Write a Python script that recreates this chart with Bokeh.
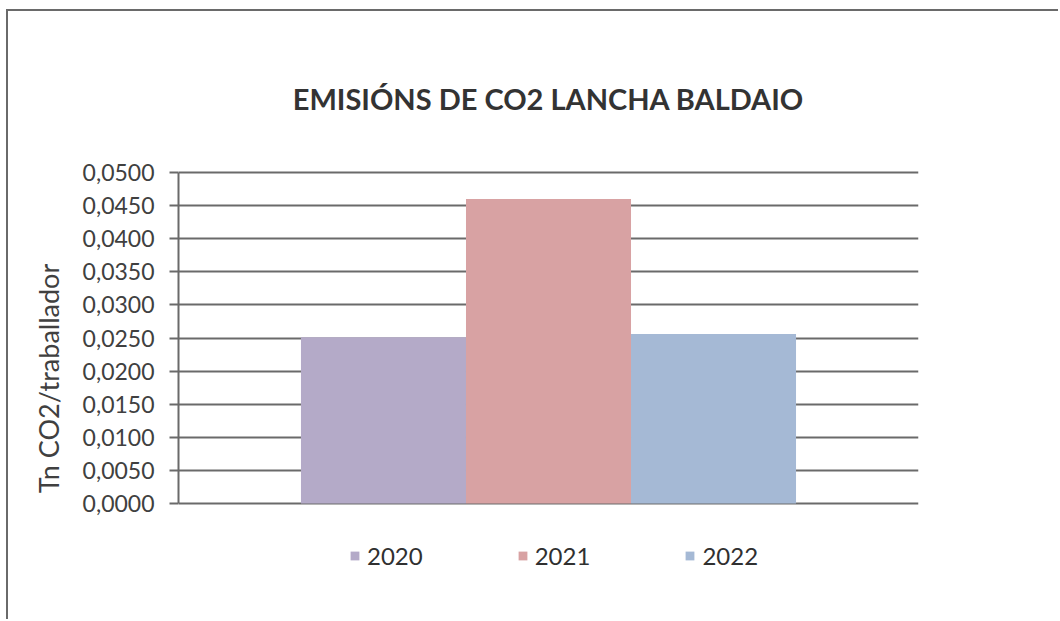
from bokeh.plotting import figure
from bokeh.models import (Range1d, FixedTicker, CustomJSTickFormatter, Title,
                          Legend, LegendItem, ColumnDataSource)
from bokeh.embed import file_html
from bokeh.resources import INLINE

# ---- data ----
years = ["2020", "2021", "2022"]
emissions = [0.0251, 0.0460, 0.0256]
colors = ["#b4aac8", "#d8a2a3", "#a5b9d5"]
y_ticks = [0.0, 0.005, 0.010, 0.015, 0.020, 0.025, 0.030, 0.035, 0.040, 0.045, 0.050]
title_text = "EMISIÓNS DE CO2 LANCHA BALDAIO"
y_label = "Tn CO2/traballador"

# ---- layout ----
W, H = 1052, 610
FONT = "Lato"
bar_w = 0.223
centers = [0.5 - bar_w, 0.5, 0.5 + bar_w]

# frame spans canvas y=159..575; value axis 0..0.05 occupies 331 px (y=161..492)
px_per_unit = 331 / 0.05
top_pad, bottom_pad = 2, 83
y_max = 0.05 + top_pad / px_per_unit
y_min = -bottom_pad / px_per_unit

p = figure(width=W, height=H, output_backend="svg", toolbar_location=None,
           x_range=Range1d(0, 1), y_range=Range1d(y_min, y_max),
           x_axis_location=None,
           min_border_left=170, min_border_right=142,
           min_border_top=159, min_border_bottom=35)
p.styles = {"border-left": "2px solid #6a6a6a", "border-top": "2px solid #6a6a6a",
            "margin-left": "6px", "margin-top": "9px"}
p.background_fill_color = "white"
p.border_fill_color = "white"
p.outline_line_color = None
p.xgrid.visible = False

p.title = Title(text=title_text, align="center", text_font=FONT,
                text_font_style="bold", text_font_size="29px",
                text_color="#333333", standoff=110)

yax = p.yaxis[0]
yax.bounds = (0, 0.05)
yax.ticker = FixedTicker(ticks=y_ticks)
yax.formatter = CustomJSTickFormatter(code="return tick.toFixed(4).replace('.', ',');")
yax.axis_line_color = "#6a6a6a"
yax.axis_line_width = 2
yax.major_tick_line_color = "#6a6a6a"
yax.major_tick_line_width = 2
yax.major_tick_out = 9
yax.major_tick_in = 0
yax.minor_tick_line_color = None
yax.major_label_standoff = 15
yax.major_label_text_font = FONT
yax.major_label_text_font_size = "23px"
yax.major_label_text_color = "#404040"
yax.axis_label = y_label
yax.axis_label_text_font = FONT
yax.axis_label_text_font_size = "27px"
yax.axis_label_text_font_style = "normal"
yax.axis_label_text_color = "#404040"
yax.axis_label_standoff = 15

p.ygrid.ticker = FixedTicker(ticks=y_ticks)
p.ygrid.grid_line_color = "#6a6a6a"
p.ygrid.grid_line_width = 2

items = []
for i, (yr, v, c) in enumerate(zip(years, emissions, colors)):
    src = ColumnDataSource(dict(x=[centers[i]], top=[v]))
    r = p.vbar(x="x", top="top", bottom=0, width=bar_w, source=src,
               fill_color=c, line_color=None)
    items.append(LegendItem(label=yr, renderers=[r]))

legend = Legend(items=items, orientation="horizontal", location=(171, 16),
                glyph_width=11, glyph_height=11, label_standoff=7, spacing=94,
                padding=0, margin=0, label_height=30, border_line_color=None,
                background_fill_alpha=0,
                label_text_font=FONT, label_text_font_size="24px",
                label_text_color="#303030")
p.add_layout(legend, "center")

open("out.html", "w").write(file_html(p, INLINE))
